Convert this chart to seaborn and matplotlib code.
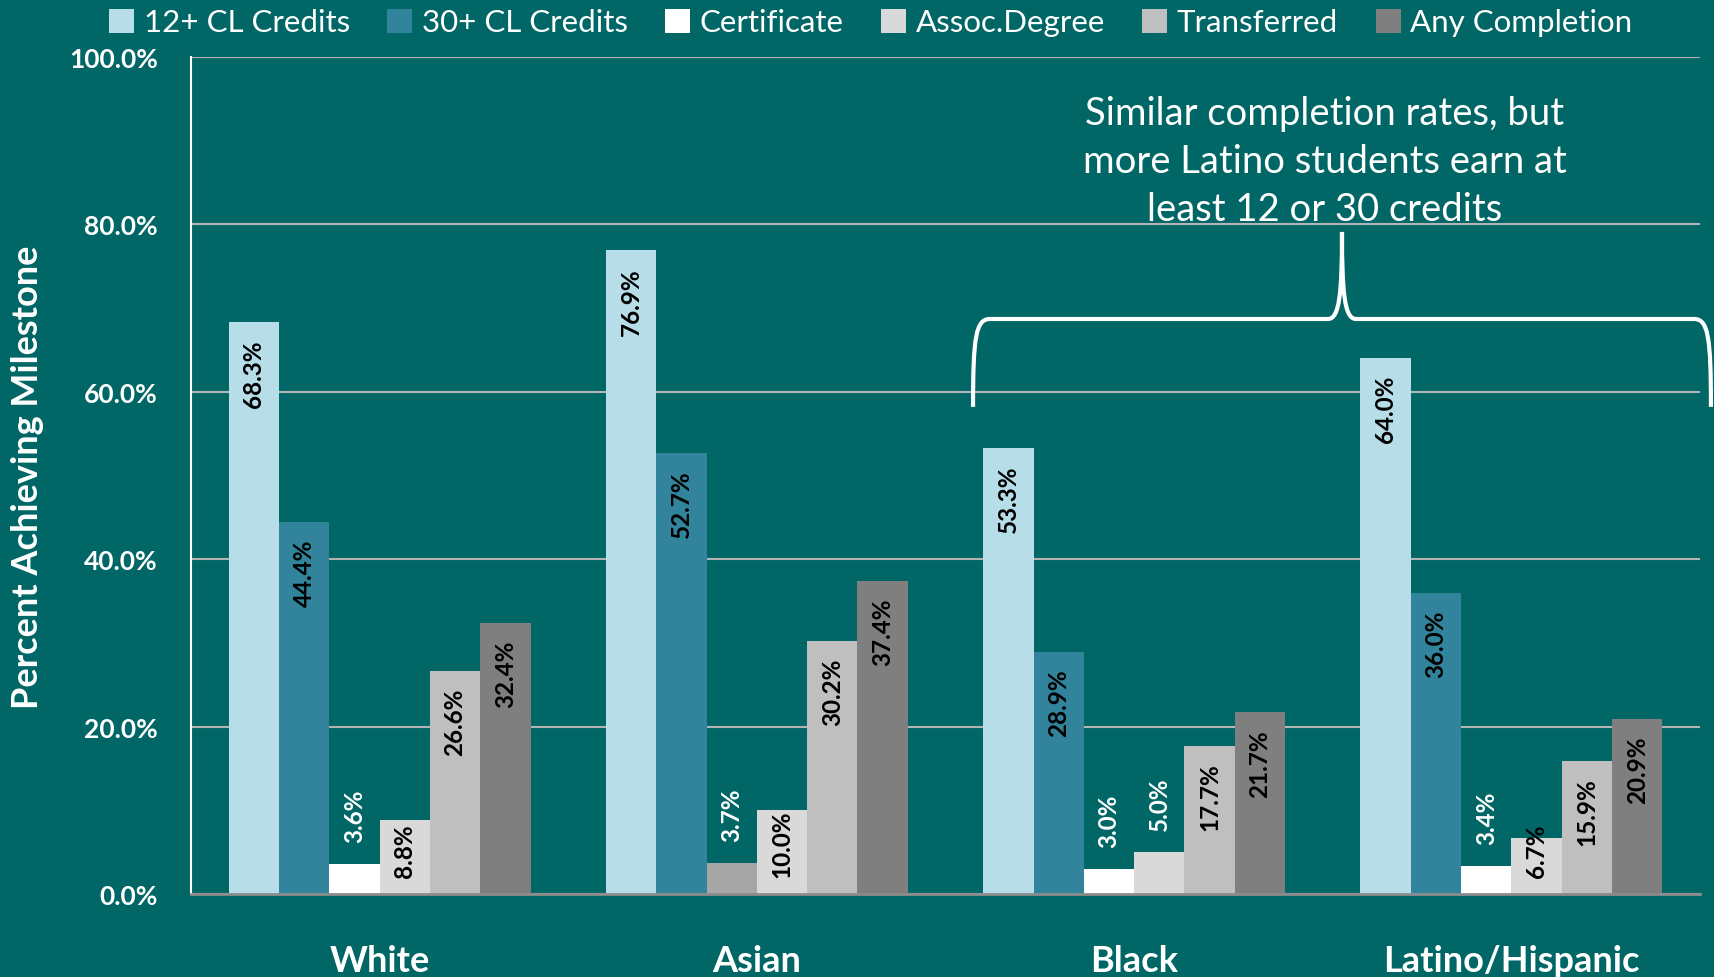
import matplotlib
matplotlib.use("Agg")
import matplotlib.pyplot as plt
import seaborn as sns
import pandas as pd
from matplotlib.path import Path
from matplotlib.patches import PathPatch, Patch

# ---- data ----
groups = ["White", "Asian", "Black", "Latino/Hispanic"]
series = ["12+ CL Credits", "30+ CL Credits", "Certificate", "Assoc.Degree", "Transferred", "Any Completion"]
credits12 = [68.3, 76.9, 53.3, 64.0]
credits30 = [44.4, 52.7, 28.9, 36.0]
certificate = [3.6, 3.7, 3.0, 3.4]
assoc_degree = [8.8, 10.0, 5.0, 6.7]
transferred = [26.6, 30.2, 17.7, 15.9]
any_completion = [32.4, 37.4, 21.7, 20.9]
yticks = [0, 20, 40, 60, 80, 100]
annotation = "Similar completion rates, but\nmore Latino students earn at\nleast 12 or 30 credits"

values = [credits12, credits30, certificate, assoc_degree, transferred, any_completion]
rows = []
for s, vals in zip(series, values):
    for g, v in zip(groups, vals):
        rows.append({"group": g, "series": s, "value": v})
df = pd.DataFrame(rows)

BG = "#006666"
colors = ["#B7DDE8", "#31849B", "#FFFFFF", "#D9D9D9", "#BFBFBF", "#7F7F7F"]

sns.set_style("white")
plt.rcParams["font.family"] = ["Lato", "DejaVu Sans"]

fig = plt.figure(figsize=(17.14, 9.78), dpi=100, facecolor=BG)
ax = fig.add_axes([191 / 1714, 1 - 895 / 978, (1700 - 191) / 1714, (895 - 58) / 978])
ax.set_facecolor(BG)

sns.barplot(data=df, x="group", y="value", hue="series", order=groups,
            hue_order=series, palette=colors, width=0.8, linewidth=0,
            saturation=1, legend=False, ax=ax)

# Asian certificate bar shown in grey in the source
ax.containers[2][1].set_facecolor("#A6A6A6")

# labels
for ci, cont in enumerate(ax.containers):
    for bar, v in zip(cont, values[ci]):
        xc = bar.get_x() + bar.get_width() / 2
        lab = f"{v:.1f}%"
        if v < 6:
            ax.text(xc, v + 2.6, lab, rotation=90, ha="center", va="bottom",
                    color="white", fontsize=17.5, fontweight="bold")
        elif v < 12:
            ax.text(xc, 2.0, lab, rotation=90, ha="center", va="bottom",
                    color="black", fontsize=17.5, fontweight="bold")
        else:
            ax.text(xc, v - 2.0, lab, rotation=90, ha="center", va="top",
                    color="black", fontsize=17.5, fontweight="bold")

ax.set_ylim(0, 100)
ax.set_xlim(-0.5, 3.5)
ax.set_yticks(yticks)
ax.set_yticklabels([f"{t:.1f}%" for t in yticks], color="white",
                   fontsize=19, fontweight="bold")
ax.tick_params(axis="y", length=0, pad=24)
ax.set_xticks(range(len(groups)))
ax.set_xticklabels(groups, color="white", fontsize=26, fontweight="bold")
ax.tick_params(axis="x", which="major", length=0, pad=36)
ax.set_xticks([-0.5, 0.5, 1.5, 2.5, 3.5], minor=True)
ax.tick_params(axis="x", which="minor", length=10, width=1.5, color="#8C8C8C", direction="out")
ax.set_xlabel("")
ax.set_ylabel("")

ax.yaxis.grid(True, color="#B4B4B4", linewidth=1.5)
ax.set_axisbelow(True)
for side in ["top", "right"]:
    ax.spines[side].set_visible(False)
ax.spines["left"].set_color("white")
ax.spines["left"].set_linewidth(1.5)
ax.spines["bottom"].set_color("#8C8C8C")
ax.spines["bottom"].set_linewidth(2)

fig.text(28 / 1714, 1 - 477 / 978, "Percent Achieving Milestone", rotation=90,
         ha="center", va="center", color="white", fontsize=26, fontweight="bold")

# legend
handles = [Patch(facecolor=c, edgecolor="none") for c in colors]
leg = fig.legend(handles, series, loc="center", bbox_to_anchor=(0.508, 0.976), ncol=6,
                 frameon=False, fontsize=22.5, handlelength=0.8, handleheight=0.8,
                 handletextpad=0.3, columnspacing=1.2)
for t in leg.get_texts():
    t.set_color("white")

# annotation text and brace
ax.text(2.506, 87.6, annotation, ha="center", va="center", multialignment="center",
        color="white", fontsize=27.5, linespacing=1.42)

verts = [
    (1.573, 58.2),
    (1.573, 66.5), (1.580, 68.7), (1.618, 68.7),
    (2.514, 68.7),
    (2.545, 68.7), (2.551, 72.0), (2.551, 79.1),
    (2.551, 72.0), (2.557, 68.7), (2.588, 68.7),
    (3.484, 68.7),
    (3.522, 68.7), (3.529, 66.5), (3.529, 58.2),
]
codes = [Path.MOVETO,
         Path.CURVE4, Path.CURVE4, Path.CURVE4,
         Path.LINETO,
         Path.CURVE4, Path.CURVE4, Path.CURVE4,
         Path.CURVE4, Path.CURVE4, Path.CURVE4,
         Path.LINETO,
         Path.CURVE4, Path.CURVE4, Path.CURVE4]
brace = PathPatch(Path(verts, codes), facecolor="none", edgecolor="white",
                  linewidth=3, clip_on=False, zorder=5)
ax.add_patch(brace)

fig.savefig("out.png", dpi=100, facecolor=BG)
